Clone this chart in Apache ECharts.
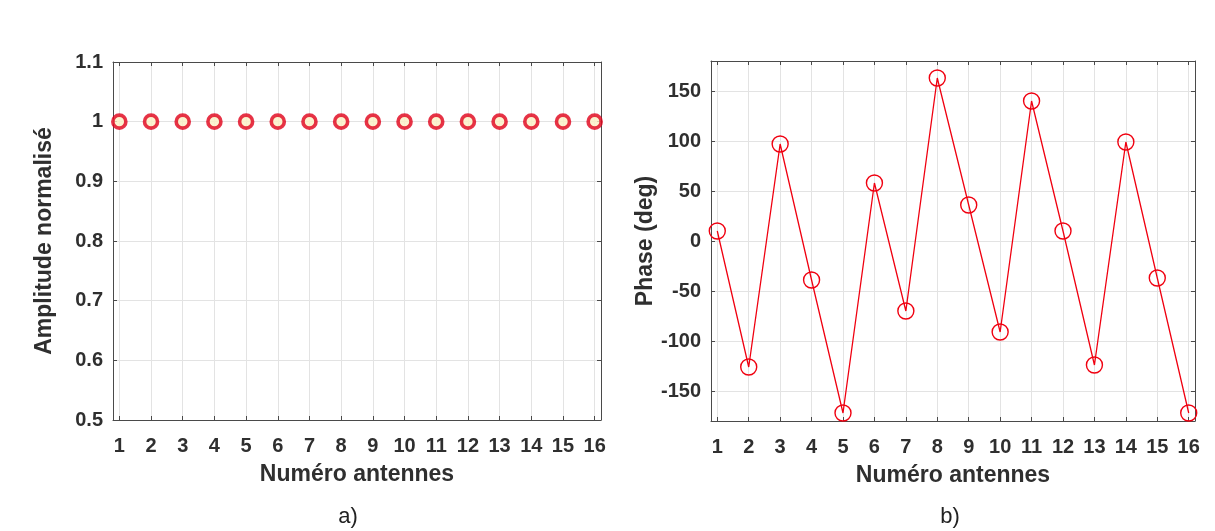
<!DOCTYPE html>
<html><head><meta charset="utf-8">
<script src="https://cdn.jsdelivr.net/npm/echarts@6/dist/echarts.min.js"></script>
<style>html,body{margin:0;padding:0;background:#fff}#c{width:1215px;height:531px}</style>
</head><body><div id="c"></div>
<script>
const antennas = [1,2,3,4,5,6,7,8,9,10,11,12,13,14,15,16];
const amplitude = [1,1,1,1,1,1,1,1,1,1,1,1,1,1,1,1];
const phase = [10,-126,97,-39,-172,58,-70,163,36,-91,140,10,-124,99,-37,-172];
const ampTicks = [0.5,0.6,0.7,0.8,0.9,1,1.1];
const phaseTicks = [-150,-100,-50,0,50,100,150];
const xTitle = 'Numéro antennes';
const ampTitle = 'Amplitude normalisé';
const phaseTitle = 'Phase (deg)';
const panelLabels = ['a)', 'b)'];

const FONT = '"Liberation Sans", Arial, sans-serif';
const AX = '#4a4a4a';
const GRIDC = '#e3e3e3';
const labelStyle = {fontFamily: FONT, fontWeight: 'bold', fontSize: 20, color: '#2f2f2f'};
const nameStyle = {fontFamily: FONT, fontWeight: 'bold', fontSize: 23, color: '#2f2f2f'};

function mainX(gi){
  return {
    type: 'value', gridIndex: gi, min: 0.8, max: 16.2, position: 'bottom',
    name: xTitle, nameLocation: 'middle', nameGap: 43, nameTextStyle: nameStyle,
    axisLine: {show: true, onZero: false, lineStyle: {color: AX, width: 1}},
    axisTick: {show: true, inside: true, length: 4, customValues: antennas, lineStyle: {color: AX}},
    axisLabel: {show: true, customValues: antennas, margin: 16, ...labelStyle},
    splitLine: {show: true, customValues: antennas, lineStyle: {color: GRIDC, width: 1}}
  };
}
function topX(gi){
  return {
    type: 'value', gridIndex: gi, min: 0.8, max: 16.2, position: 'top',
    axisLine: {show: true, onZero: false, lineStyle: {color: AX, width: 1}},
    axisTick: {show: true, inside: true, length: 4, customValues: antennas, lineStyle: {color: AX}},
    axisLabel: {show: false}, splitLine: {show: false}
  };
}
function yAxes(gi, min, max, ticks, name, gap){
  return [{
    type: 'value', gridIndex: gi, min: min, max: max, position: 'left',
    name: name, nameLocation: 'middle', nameGap: gap, nameTextStyle: nameStyle,
    axisLine: {show: true, onZero: false, lineStyle: {color: AX, width: 1}},
    axisTick: {show: true, inside: true, length: 4, customValues: ticks, lineStyle: {color: AX}},
    axisLabel: {show: true, customValues: ticks, margin: 10, ...labelStyle},
    splitLine: {show: true, customValues: ticks, lineStyle: {color: GRIDC, width: 1}}
  },{
    type: 'value', gridIndex: gi, min: min, max: max, position: 'right',
    axisLine: {show: true, onZero: false, lineStyle: {color: AX, width: 1}},
    axisTick: {show: true, inside: true, length: 4, customValues: ticks, lineStyle: {color: AX}},
    axisLabel: {show: false}, splitLine: {show: false}
  }];
}

const chart = echarts.init(document.getElementById('c'), null, {renderer: 'canvas'});
const ya = yAxes(0, 0.5, 1.1, ampTicks, ampTitle, 57);
const yb = yAxes(1, -180, 180, phaseTicks, phaseTitle, 53);
chart.setOption({
  animation: false,
  backgroundColor: '#fff',
  grid: [
    {left: 113, top: 62, width: 488, height: 358, containLabel: false},
    {left: 711, top: 61, width: 484, height: 360, containLabel: false}
  ],
  xAxis: [mainX(0), topX(0), mainX(1), topX(1)],
  yAxis: [ya[0], ya[1], yb[0], yb[1]],
  graphic: [
    {type: 'text', x: 348, y: 517, style: {text: panelLabels[0], font: '22px ' + FONT, fill: '#222', textAlign: 'center', textVerticalAlign: 'middle'}},
    {type: 'text', x: 950, y: 517, style: {text: panelLabels[1], font: '22px ' + FONT, fill: '#222', textAlign: 'center', textVerticalAlign: 'middle'}}
  ],
  series: [{
    type: 'scatter', xAxisIndex: 0, yAxisIndex: 0,
    data: antennas.map((a, i) => [a, amplitude[i]]),
    symbol: 'circle', symbolSize: 13,
    itemStyle: {color: '#fbf0c4', borderColor: '#e0001a', borderWidth: 3.6}
  },{
    type: 'line', xAxisIndex: 2, yAxisIndex: 2,
    data: antennas.map((a, i) => [a, phase[i]]),
    symbol: 'circle', symbolSize: 16, showSymbol: true,
    lineStyle: {color: '#f00010', width: 1.3},
    itemStyle: {color: 'rgba(0,0,0,0)', borderColor: '#f00010', borderWidth: 1.4}
  }]
});
</script></body></html>
